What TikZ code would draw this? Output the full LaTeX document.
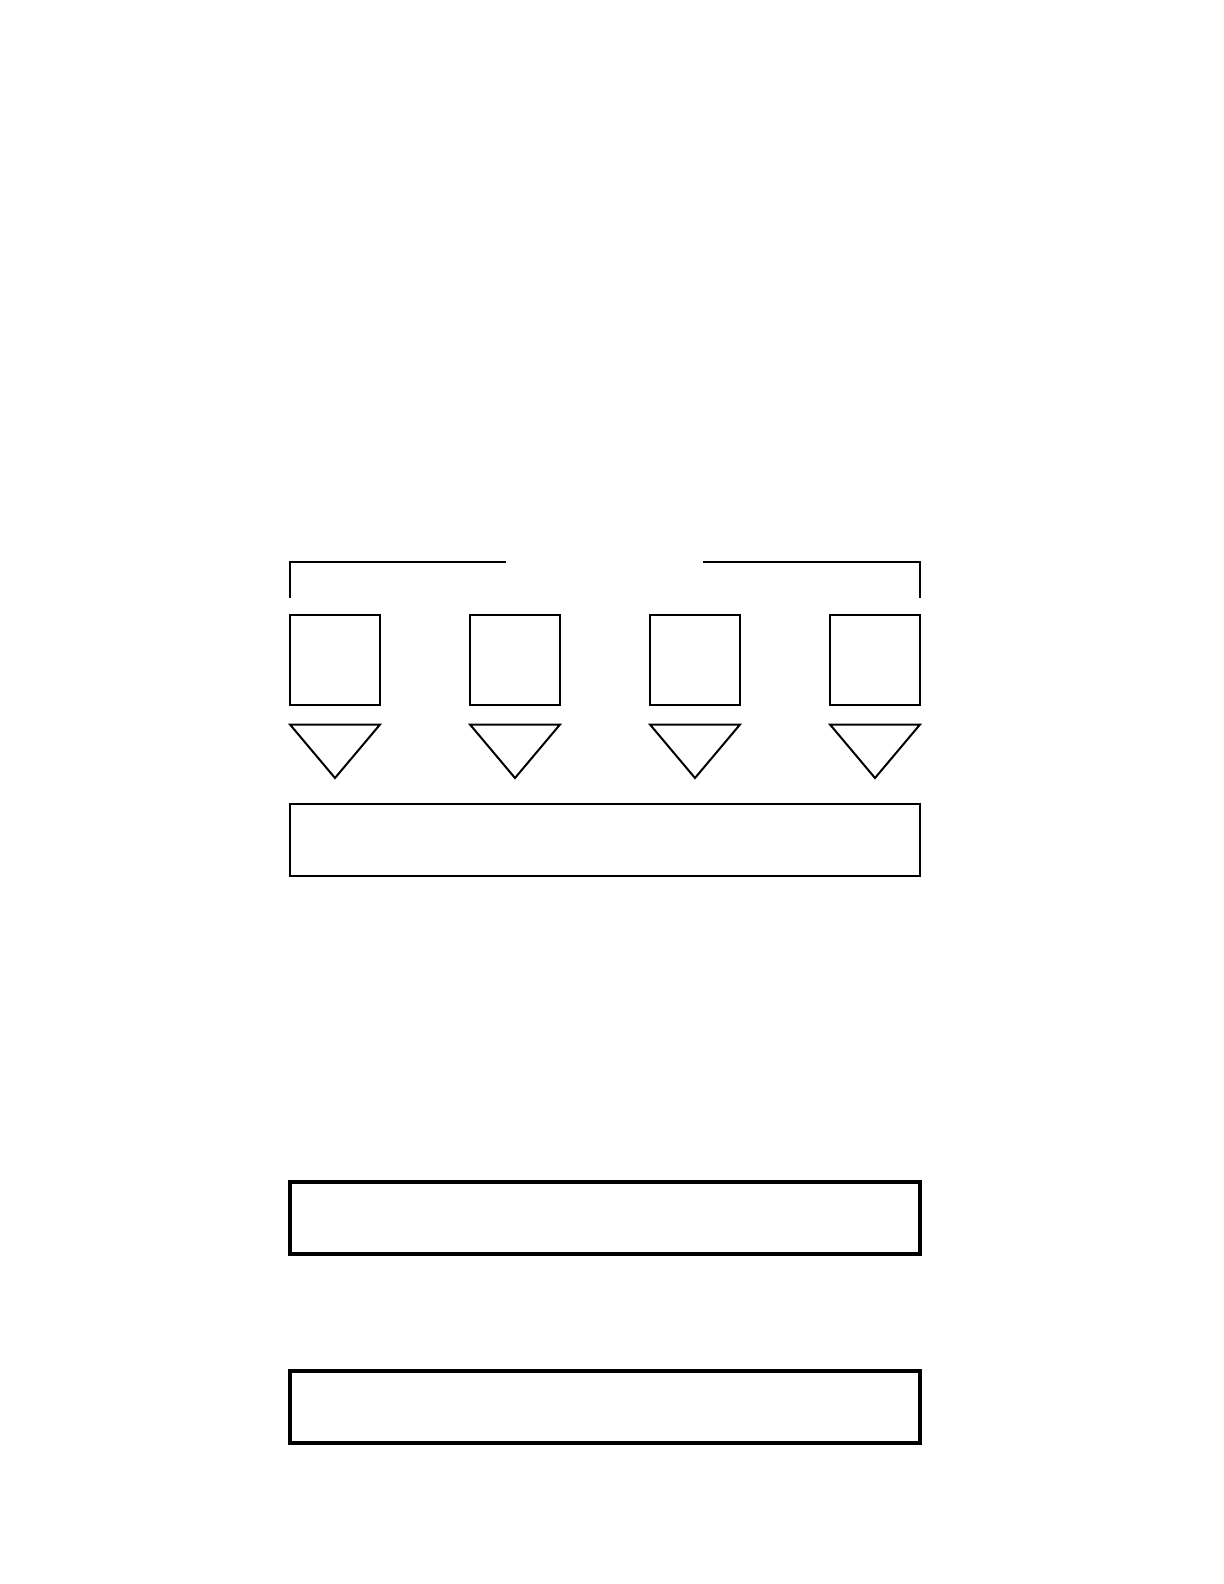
\documentclass[tikz,border=0pt]{standalone}
\usepackage{tikz}
\usetikzlibrary{positioning}
\begin{document}
\begin{tikzpicture}[x=0.5bp, y=-0.5bp, line width=1bp,
    cell/.style={draw, minimum size=45bp, inner sep=0pt},
    bar/.style={draw, minimum width=315bp, minimum height=36bp, inner sep=0pt},
    thickbar/.style={bar, line width=2bp}]
    \useasboundingbox (0, 0) rectangle (1224, 1584);
    \foreach \i/\x in {1/335, 2/515, 3/695, 4/875} {
        \node[cell] (c\i) at (\x, 660) {};
        \draw (\x-45, 724.5) -- (\x+45, 724.5) -- (\x, 778) -- cycle;
    }
    \node[bar] (bus) at (605, 840) {};
    \node[thickbar] (upper) at (605, 1218) {};
    \node[thickbar] (lower) at (605, 1407) {};
    \draw
    (290, 598) -- (290, 562) -- (506, 562)
    (703, 562) -- (920, 562) -- (920, 598);
\end{tikzpicture}
\end{document}
